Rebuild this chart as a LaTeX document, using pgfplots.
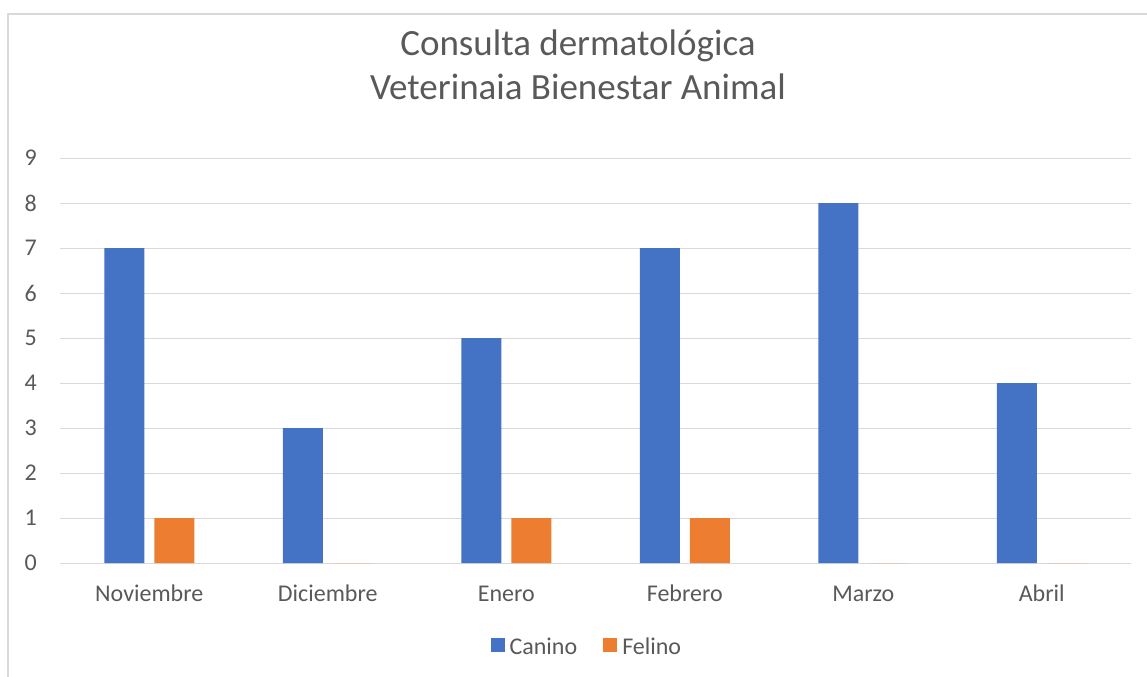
\documentclass[border=0pt]{standalone}
\usepackage{fontspec}
\setmainfont{Carlito}
\usepackage{pgfplots}
\pgfplotsset{compat=1.18}
\definecolor{canino}{HTML}{4472C4}
\definecolor{felino}{HTML}{ED7D31}
\definecolor{txtgray}{HTML}{595959}
\definecolor{gridgray}{HTML}{D9D9D9}

\begin{document}
\begin{tikzpicture}
\useasboundingbox (0,0) rectangle (1147bp,-677bp);
% chart frame (only left and top edges are visible)
\draw[gridgray, line width=1.3bp] (8bp,-677bp) -- (8bp,-14bp) -- (1147bp,-14bp);
\begin{axis}[
  at={(60bp,-563bp)}, anchor=south west,
  x=178.5bp, y=45bp,
  xmin=-0.5, xmax=5.5, ymin=0, ymax=9,
  ybar=10bp, bar width=40bp,
  axis line style={draw=none},
  major tick length=0pt,
  ymajorgrids,
  major grid style={gridgray, line width=1bp},
  xtick={0,...,5},
  xticklabels={Noviembre,Diciembre,Enero,Febrero,Marzo,Abril},
  ytick={0,...,9},
  /pgf/number format/assume math mode=true,
  ticklabel style={font=\fontsize{24bp}{29bp}\selectfont, text=txtgray, inner sep=0pt},
  xticklabel style={anchor=base, yshift=-38bp},
  yticklabel style={anchor=east, xshift=-23bp},
  legend columns=2,
  legend image code/.code={\fill[#1] (0bp,-5.3bp) rectangle (14bp,8.7bp);},
  legend style={at={(0.491,-0.2074)}, anchor=center, draw=none, fill=none,
    font=\fontsize{24bp}{29bp}\selectfont, text=txtgray,
    nodes={inner sep=0pt},
    /tikz/every odd column/.style={column sep=5bp},
    /tikz/every even column/.style={column sep=26bp}},
]
\addplot[fill=canino, draw=none] coordinates {(0,7) (1,3) (2,5) (3,7) (4,8) (5,4)};
\addplot[fill=felino, draw=none] coordinates {(0,1) (1,0) (2,1) (3,1) (4,0) (5,0)};
\legend{Canino, Felino}
\end{axis}
\node[anchor=base, text=txtgray, font=\fontsize{37bp}{44bp}\selectfont] at (578bp,-55bp) {Consulta dermatológica};
\node[anchor=base, text=txtgray, font=\fontsize{37bp}{44bp}\selectfont] at (578bp,-99bp) {Veterinaia Bienestar Animal};
\end{tikzpicture}
\end{document}
